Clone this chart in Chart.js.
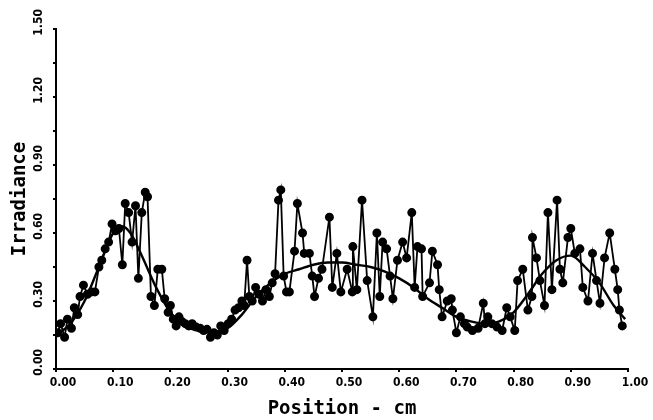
<!DOCTYPE html>
<html>
<head>
<meta charset="utf-8">
<script src="https://cdn.jsdelivr.net/npm/chart.js@4/dist/chart.umd.min.js"></script>
<style>
  html, body { margin: 0; padding: 0; background: #fff; }
  #wrap { width: 653px; height: 420px; }
</style>
</head>
<body>
<div id="wrap"><canvas id="irrChart"></canvas></div>
<script>
// measured positions (cm) and irradiance
const posX = [0.003, 0.008, 0.015, 0.020, 0.027, 0.032, 0.038, 0.042, 0.048, 0.055, 0.062, 0.068,
  0.075, 0.080, 0.086, 0.092, 0.098, 0.104, 0.110, 0.116, 0.121, 0.127, 0.133, 0.139, 0.144, 0.150,
  0.156, 0.160, 0.166, 0.172, 0.178, 0.185, 0.190, 0.196, 0.200, 0.205, 0.210, 0.215, 0.220, 0.226,
  0.232, 0.238, 0.245, 0.252, 0.258, 0.264, 0.270, 0.276, 0.282, 0.288, 0.294, 0.301, 0.307, 0.313,
  0.319, 0.325, 0.329, 0.334, 0.338, 0.343, 0.349, 0.355, 0.361, 0.367, 0.373, 0.378, 0.383, 0.389,
  0.393, 0.398, 0.403, 0.408, 0.417, 0.422, 0.431, 0.434, 0.443, 0.448, 0.452, 0.459, 0.465, 0.478,
  0.483, 0.491, 0.498, 0.509, 0.518, 0.519, 0.526, 0.535, 0.544, 0.554, 0.561, 0.566, 0.571, 0.578,
  0.584, 0.589, 0.597, 0.606, 0.613, 0.622, 0.627, 0.632, 0.639, 0.641, 0.653, 0.658, 0.667, 0.670,
  0.675, 0.684, 0.691, 0.693, 0.700, 0.707, 0.714, 0.719, 0.728, 0.738, 0.747, 0.750, 0.755, 0.762,
  0.771, 0.780, 0.788, 0.794, 0.802, 0.807, 0.816, 0.825, 0.832, 0.833, 0.840, 0.846, 0.854, 0.860,
  0.867, 0.876, 0.881, 0.886, 0.895, 0.900, 0.907, 0.916, 0.921, 0.930, 0.938, 0.945, 0.951, 0.959,
  0.968, 0.977, 0.982, 0.985, 0.990];
const irrMeasured = [0.16, 0.20, 0.14, 0.22, 0.18, 0.27, 0.24, 0.32, 0.37, 0.33, 0.34, 0.34,
  0.45, 0.48, 0.53, 0.56, 0.64, 0.61, 0.62, 0.46, 0.73, 0.69, 0.56, 0.72, 0.40, 0.69,
  0.78, 0.76, 0.32, 0.28, 0.44, 0.44, 0.31, 0.25, 0.28, 0.22, 0.19, 0.23, 0.21, 0.20,
  0.19, 0.20, 0.185, 0.18, 0.17, 0.175, 0.14, 0.16, 0.15, 0.19, 0.17, 0.20, 0.22, 0.26,
  0.27, 0.30, 0.28, 0.48, 0.32, 0.30, 0.36, 0.33, 0.30, 0.35, 0.32, 0.38, 0.42, 0.745,
  0.79, 0.41, 0.34, 0.34, 0.52, 0.73, 0.60, 0.51, 0.51, 0.41, 0.32, 0.40, 0.44, 0.67,
  0.36, 0.51, 0.34, 0.44, 0.34, 0.54, 0.35, 0.745, 0.39, 0.23, 0.60, 0.32, 0.56, 0.53,
  0.41, 0.31, 0.48, 0.56, 0.49, 0.69, 0.36, 0.54, 0.53, 0.32, 0.38, 0.52, 0.46, 0.35,
  0.23, 0.30, 0.31, 0.26, 0.16, 0.23, 0.20, 0.185, 0.17, 0.18, 0.29, 0.20, 0.23, 0.20,
  0.185, 0.17, 0.27, 0.23, 0.17, 0.39, 0.44, 0.26, 0.32, 0.58, 0.49, 0.39, 0.28, 0.69,
  0.35, 0.745, 0.44, 0.38, 0.58, 0.62, 0.51, 0.53, 0.36, 0.30, 0.51, 0.39, 0.29, 0.49,
  0.60, 0.44, 0.35, 0.26, 0.19];

// smooth fitted curve
const fitX = [0.00, 0.025, 0.05, 0.075, 0.10, 0.115, 0.13, 0.15, 0.175, 0.20, 0.225, 0.25, 0.275,
  0.30, 0.325, 0.35, 0.375, 0.40, 0.425, 0.45, 0.475, 0.50, 0.525, 0.55, 0.575, 0.60, 0.625,
  0.65, 0.675, 0.70, 0.725, 0.75, 0.775, 0.80, 0.825, 0.85, 0.875, 0.90, 0.925, 0.95, 0.975, 0.995];
const irrFit = [0.15, 0.20, 0.30, 0.45, 0.60, 0.63, 0.60, 0.50, 0.36, 0.25, 0.19, 0.17, 0.165,
  0.18, 0.24, 0.32, 0.38, 0.42, 0.44, 0.46, 0.47, 0.47, 0.46, 0.45, 0.43, 0.40, 0.36,
  0.31, 0.27, 0.23, 0.21, 0.20, 0.21, 0.25, 0.33, 0.42, 0.48, 0.50, 0.45, 0.38, 0.28, 0.22];

const xTicks = [0, 0.1, 0.2, 0.3, 0.4, 0.5, 0.6, 0.7, 0.8, 0.9, 1.0];

const tickFont = { family: 'DejaVu Sans Condensed', size: 12, weight: 'bold' };
const titleFont = { family: 'DejaVu Sans Mono', size: 19, weight: 'bold' };

new Chart(document.getElementById('irrChart'), {
  type: 'line',
  data: {
    datasets: [{
      label: 'Measured',
      data: posX.map((x, i) => ({ x: x, y: irrMeasured[i] })),
      borderColor: '#000',
      backgroundColor: '#000',
      borderWidth: 1.8,
      pointRadius: 3.6,
      pointHoverRadius: 3.6,
      tension: 0
    }, {
      label: 'Fit',
      data: fitX.map((x, i) => ({ x: x, y: irrFit[i] })),
      borderColor: '#000',
      borderWidth: 2.4,
      pointRadius: 0,
      cubicInterpolationMode: 'monotone'
    }]
  },
  options: {
    responsive: true,
    maintainAspectRatio: false,
    animation: false,
    layout: { padding: { top: 29, right: 25, left: 0, bottom: 0 } },
    plugins: { legend: { display: false }, tooltip: { enabled: false } },
    scales: {
      x: {
        type: 'linear',
        min: 0,
        max: 1,
        afterBuildTicks: s => { s.ticks = xTicks.map(v => ({ value: v })); },
        afterFit: s => { s.height = 51; },
        border: { color: '#000', width: 2 },
        grid: { display: true, drawOnChartArea: false, color: '#000', tickLength: 3, lineWidth: 2 },
        ticks: {
          color: '#000',
          font: tickFont,
          maxRotation: 0,
          labelOffset: 7,
          padding: 4,
          callback: v => v.toFixed(2)
        },
        title: { display: true, text: 'Position - cm', color: '#000', font: titleFont, padding: { top: 0, bottom: 0 } }
      },
      y: {
        min: 0,
        max: 1.5,
        ticks: {
          stepSize: 0.15,
          color: '#000',
          font: tickFont,
          minRotation: 90,
          maxRotation: 90,
          labelOffset: -20,
          padding: 14,
          callback: v => (Math.round(v * 100) % 30 === 0 ? v.toFixed(2) : '')
        },
        afterFit: s => { s.width = 56; },
        border: { color: '#000', width: 2 },
        grid: { display: true, drawOnChartArea: false, color: '#000', tickLength: 3, lineWidth: 2 },
        title: { display: true, text: 'Irradiance', color: '#000', font: titleFont, padding: { top: 9, bottom: 0 } }
      }
    }
  }
});
</script>
</body>
</html>
